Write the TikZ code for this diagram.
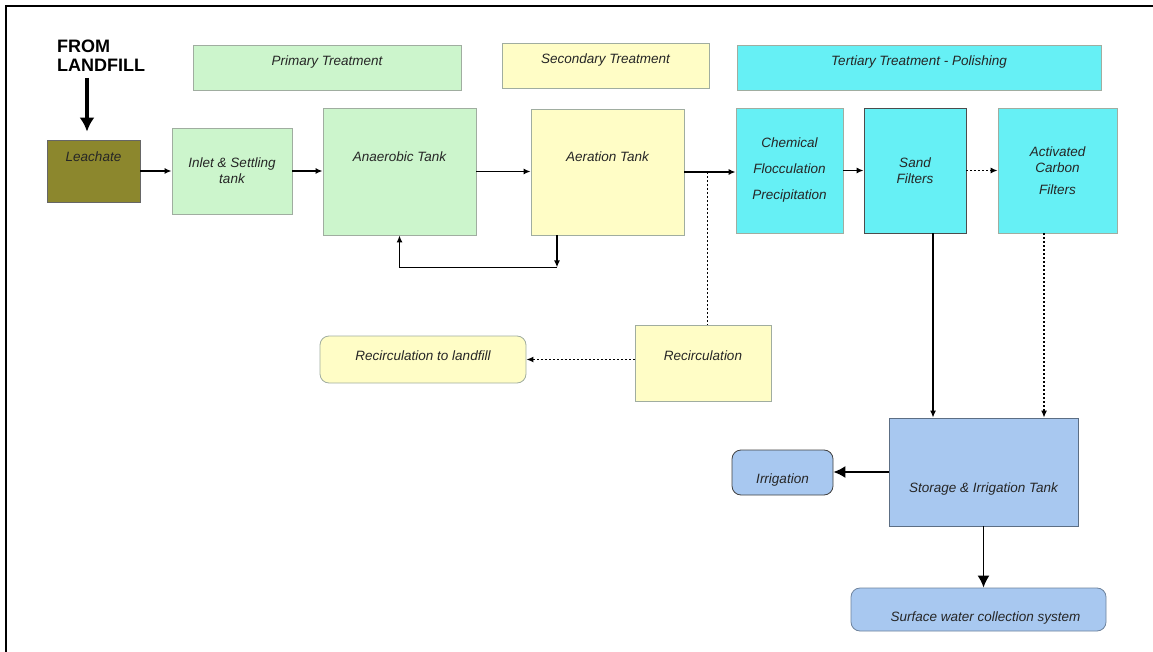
\documentclass[tikz,border=0pt]{standalone}
\usepackage{fontspec}
\setmainfont{Liberation Sans}
\usepackage{tikz}
\usetikzlibrary{positioning,arrows.meta}
\definecolor{primgreen}{HTML}{CCF5CC}
\definecolor{secyellow}{HTML}{FFFDC6}
\definecolor{tercyan}{HTML}{66F0F5}
\definecolor{storeblue}{HTML}{A8C8F0}
\definecolor{leacholive}{HTML}{8C872D}
\definecolor{edgegray}{HTML}{A0ADA0}

\begin{document}
\begin{tikzpicture}[
x=1pt, y=-1pt,
>={Latex[length=7pt,width=6pt]},
stage/.style={
draw=edgegray,
line width=0.8pt,
inner sep=1pt,
align=center,
text=black!85,
font=\fontsize{13.5}{16}\selectfont\itshape
},
header/.style={
stage,
minimum height=45pt,
text height=10pt,
text depth=14pt
},
arrow/.style={
->,
line width=1.5pt
},
dots/.style={
line width=1.5pt,
dash pattern=on 2pt off 2pt
},
bigtip/.style={
-{Latex[length=12pt,width=12pt]},
line width=1.7pt
},
bigarrow/.style={
-{Latex[length=14pt,width=15pt]},
line width=4.5pt
}
]

\useasboundingbox (0,0) rectangle (1153,652);
\draw[line width=2.5pt] (6,652) -- (6,6) -- (1153,6);

% stage headers
\node[header, fill=primgreen, minimum width=268pt] (primhdr) at (327,67.5) {Primary Treatment};
\node[header, fill=secyellow, minimum width=207pt] (sechdr) at (605.5,65.5) {Secondary Treatment};
\node[header, fill=tercyan, minimum width=364pt] (terhdr) at (919,67.5) {Tertiary Treatment - Polishing};

% inflow
\node[anchor=north west, inner sep=0pt, align=left,
font=\fontsize{18}{19}\selectfont\bfseries] (fromlf) at (57,40) {FROM\\LANDFILL};

\node[stage, draw=black!60, fill=leacholive, minimum width=93pt, minimum height=62pt,
text height=10pt, text depth=28pt] (leach) at (93.5,171) {Leachate};

% main line
\node[stage, fill=primgreen, minimum width=120pt, minimum height=86pt] (inlet) at (232,171)
{Inlet \& Settling\\tank};

\node[stage, fill=primgreen, minimum width=153pt, minimum height=127pt,
text height=10pt, text depth=29pt] (anaer) at (399.5,171.5) {Anaerobic Tank};

\node[stage, fill=secyellow, minimum width=153pt, minimum height=126pt,
text height=10pt, text depth=30pt] (aer) at (607.5,172) {Aeration Tank};

\node[stage, fill=tercyan, minimum width=107pt, minimum height=125pt] (chem) at (789.5,170.5)
{Chemical\\[10pt]Flocculation\\[10pt]Precipitation};

\node[stage, draw=black!70, fill=tercyan, minimum width=102pt, minimum height=125pt] (sand) at (915,170.5)
{Sand\\Filters};

\node[stage, fill=tercyan, minimum width=119pt, minimum height=125pt] (act) at (1057.5,170.5)
{Activated\\Carbon\\[6pt]Filters};

% recirculation
\node[stage, fill=secyellow, minimum width=136pt, minimum height=76pt,
text height=10pt, text depth=16pt] (recirc) at (703,363) {Recirculation};

\node[stage, fill=secyellow, rounded corners=9pt, minimum width=206pt, minimum height=47pt,
text height=10pt, text depth=9pt] (recland) at (423,359.5) {Recirculation to landfill};

% storage and outlets
\node[stage, draw=black!45!storeblue, fill=storeblue, minimum width=189pt, minimum height=108pt,
text height=40pt, text depth=0pt, xshift=4pt] (stor) at (979.5,472) {Storage \& Irrigation Tank};

\node[stage, draw=black!75, fill=storeblue, rounded corners=9pt, minimum width=101pt, minimum height=45pt,
text height=21pt, text depth=0pt] (irrig) at (782.5,472.5) {Irrigation};

\node[stage, draw=black!35!storeblue, fill=storeblue, rounded corners=9pt, minimum width=255pt, minimum height=43pt,
text height=23pt, text depth=0pt] (surf) at (978.5,609.5) {\hspace*{14pt}Surface water collection system};

\draw[bigarrow, shorten <=6pt] ([xshift=-6.5pt]leach.north |- fromlf.south)
-- ([xshift=-6.5pt,yshift=8pt]leach.north);

\draw[arrow] (leach.east) -- (inlet.west);

\draw[arrow] (inlet.east) -- (inlet.east -| anaer.west);

\draw[arrow] (anaer.east) -- (anaer.east -| aer.west);

\draw[arrow] (aer.east) -- (aer.east -| chem.west);

\draw[arrow] (chem.east) -- (sand.west);

\draw[dots, ->] (sand.east) -- (act.west);

% return loop
\coordinate (loop) at ([xshift=-50.5pt,yshift=-32pt]aer.south);
\draw[arrow] ([xshift=-50.5pt]aer.south) -- (loop);
\draw[arrow] (loop) -| (anaer.south);

% branch to recirculation
\coordinate (branch) at ([xshift=23pt]aer.east);
\draw[dots] (branch) -- (branch |- recirc.north);

\draw[dots, ->] (recirc.west |- recland.east) -- (recland.east);

\draw[arrow] ([xshift=18pt]sand.south) -- ([xshift=18pt]sand.south |- stor.north);

\draw[dots, ->] ([xshift=-13.5pt]act.south) -- ([xshift=-13.5pt]act.south |- stor.north);

\draw[bigtip] (stor.west) -- (stor.west -| irrig.east);

\draw[bigtip] (stor.south) -- (stor.south |- surf.north);

\end{tikzpicture}
\end{document}
